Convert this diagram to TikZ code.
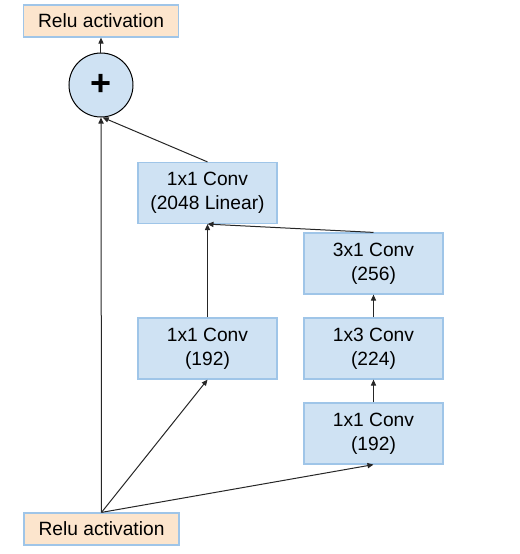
\documentclass[tikz,border=0pt]{standalone}
\usepackage{fontspec}
\setmainfont{Liberation Sans}
\usetikzlibrary{arrows.meta}
\definecolor{reluFill}{HTML}{FCE5CD}
\definecolor{convFill}{HTML}{CFE2F3}
\definecolor{boxLine}{HTML}{9FC5E8}
\begin{document}
\begin{tikzpicture}[x=0.5pt,y=-0.5pt,
  every node/.style={font=\fontsize{9.6pt}{12pt}\selectfont, inner sep=0pt, align=center},
  relubox/.style={draw=boxLine, line width=0.6pt, fill=reluFill, minimum width=77.5pt, minimum height=16pt},
  convbox/.style={draw=boxLine, line width=0.6pt, fill=convFill, minimum width=69.5pt, minimum height=30.5pt},
  addnode/.style={circle, draw=black, line width=0.5pt, fill=convFill, minimum size=32pt},
  link/.style={draw=black!85, line width=0.5pt, -{Triangle[length=3pt,width=2.6pt]}}
]
\useasboundingbox (0,0) rectangle (520,554);
\node[relubox] (top) at (101,21) {Relu activation};
\node[addnode] (plus) at (101,85) {\fontsize{18pt}{18pt}\selectfont\bfseries +};
\node[convbox] (lin) at (207.5,193) {1x1 Conv\\(2048 Linear)};
\node[convbox] (c31) at (373.5,263.5) {3x1 Conv\\(256)};
\node[convbox] (la) at (207.5,348.5) {1x1 Conv\\(192)};
\node[convbox] (c13) at (373.5,348.5) {1x3 Conv\\(224)};
\node[convbox] (rb) at (373.5,433.5) {1x1 Conv\\(192)};
\node[relubox] (bot) at (101.5,529) {Relu activation};

\draw[link] (bot.north) -- (plus.south);
\draw[link] (bot.north) -- (la.south);
\draw[link] (bot.north) -- (rb.south);
\draw[link] (rb.north) -- (c13.south);
\draw[link] (c13.north) -- (c31.south);
\draw[link] (c31.north) -- (lin.south);
\draw[link] (la.north) -- (lin.south);
\draw[link] (lin.north) -- (plus.-87);
\draw[link] (plus.north) -- (top.south);
\end{tikzpicture}
\end{document}
